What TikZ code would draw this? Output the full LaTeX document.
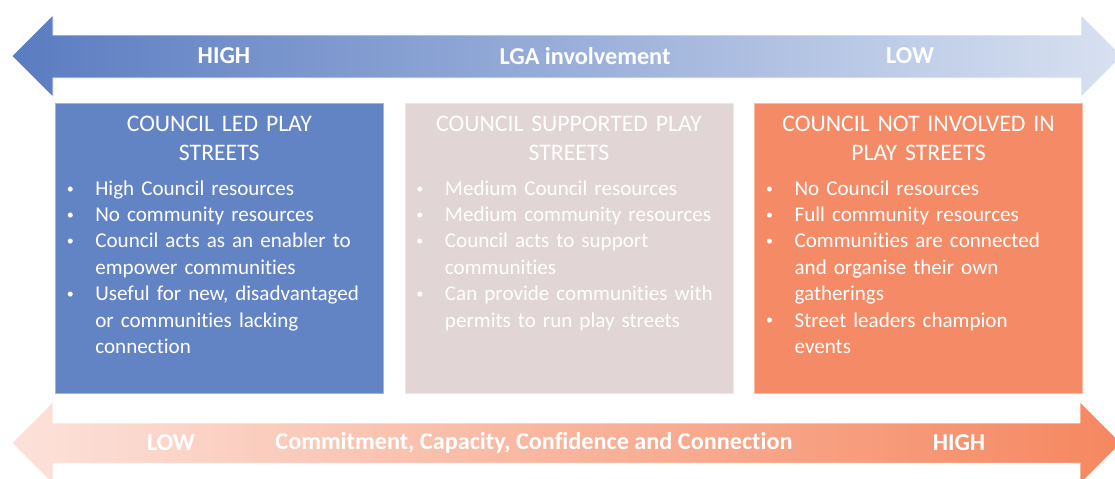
\documentclass[tikz,border=0pt]{standalone}
\usepackage{xcolor}
\usepackage{fontspec}
\setmainfont{Carlito}[Ligatures=NoCommon]
\usepackage{tikz}
\usetikzlibrary{positioning}

\definecolor{ledblue}{RGB}{99,132,196}
\definecolor{supppink}{RGB}{226,213,214}
\definecolor{noneorange}{RGB}{245,139,102}
\definecolor{topdark}{RGB}{90,124,193}
\definecolor{toplight}{RGB}{216,225,241}
\definecolor{botlight}{RGB}{252,226,218}
\definecolor{botdark}{RGB}{245,135,96}

\newenvironment{plitems}{\begin{list}{\raisebox{1.2pt}{\fontsize{8}{8}\selectfont\textbullet}\hfill}{\setlength\leftmargin{0.57cm}\setlength\labelwidth{0.57cm}\setlength\labelsep{0pt}\setlength\topsep{0pt}\setlength\partopsep{0pt}\setlength\itemsep{0pt}\setlength\parsep{0pt}}}{\end{list}}

\begin{document}
\begin{tikzpicture}[x=0.02cm, y=-0.02cm,
	panel/.style={anchor=north west, minimum width=6.56cm, minimum height=5.8cm, inner sep=0pt},
	ptitle/.style={text=white, font=\fontsize{13.5}{16.4}\selectfont, align=center, text width=6.3cm, inner sep=0pt},
	plist/.style={text=white, font=\fontsize{12}{15}\selectfont, text width=6.4cm, inner sep=0pt, xshift=0.15cm},
	tag/.style={text=white, font=\bfseries\fontsize{13.8}{15}\selectfont, inner sep=0pt}]
\useasboundingbox (0,0) rectangle (1115,478);
\shade[left color=topdark, right color=toplight, draw=white, line width=0.3pt] (12,56) -- (53,15) -- (53,35) -- (1081,35) -- (1081,15) -- (1122,56) -- (1081,97) -- (1081,78) -- (53,78) -- (53,97) -- cycle;
\shade[left color=botlight, right color=botdark, draw=white, line width=0.3pt] (12,443) -- (53,402) -- (53,423) -- (1080,423) -- (1080,402) -- (1121,443) -- (1080,484) -- (1080,463) -- (53,463) -- (53,484) -- cycle;

\node[tag] (hi) at (224,56) {HIGH};
\node[tag] (lga) at (585,56) {LGA involvement};
\node[tag] (lo) at (910,56) {LOW};
\node[tag] (lo2) at (171,443) {LOW};
\node[tag] (ccc) at (534,443) {Commitment, Capacity, Confidence and Connection};
\node[tag] (hi2) at (959,443) {HIGH};

\node[panel, fill=ledblue, draw=ledblue!60!white] (led) at (55,103) {};
\node[panel, fill=supppink, draw=supppink!60!white, right=0.42cm of led] (supp) {};
\node[panel, fill=noneorange, draw=noneorange!60!white, right=0.42cm of supp] (none) {};

\node[ptitle, below=0.25cm of led.north] (ledhead) {COUNCIL LED PLAY\\STREETS};
\node[ptitle, below=0.25cm of supp.north] (supphead) {COUNCIL SUPPORTED PLAY\\STREETS};
\node[ptitle, below=0.25cm of none.north] (nonehead) {COUNCIL NOT INVOLVED IN\\PLAY STREETS};

\node[plist, below=0.16cm of ledhead] (ledlist) {
	\begin{plitems}
	\item High Council resources
	\item No community resources
	\item Council acts as an enabler to\newline empower communities
	\item Useful for new, disadvantaged\newline or communities lacking\newline connection
	\end{plitems}
};
\node[plist, below=0.16cm of supphead] (supplist) {
	\begin{plitems}
	\item Medium Council resources
	\item Medium community resources
	\item Council acts to support\newline communities
	\item Can provide communities with\newline permits to run play streets
	\end{plitems}
};
\node[plist, below=0.16cm of nonehead] (nonelist) {
	\begin{plitems}
	\item No Council resources
	\item Full community resources
	\item Communities are connected\newline and organise their own\newline gatherings
	\item Street leaders champion\newline events
	\end{plitems}
};
\end{tikzpicture}
\end{document}
